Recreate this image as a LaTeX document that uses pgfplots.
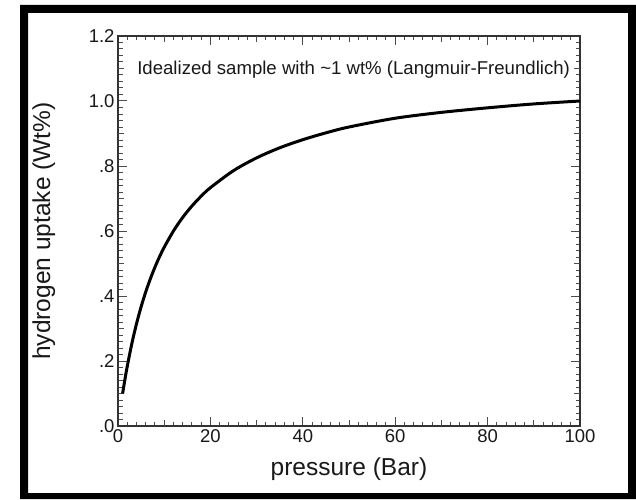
\documentclass[border=0pt]{standalone}
\usepackage{pgfplots}
\pgfplotsset{compat=1.18}
\usepackage{fontspec}
\setmainfont{Liberation Sans}

\begin{document}
\begin{tikzpicture}[x=1pt,y=1pt]
  % page and black frame
  \fill[white] (0,0) rectangle (636,499);
  \fill[black,even odd rule] (20,0) rectangle (636,494) (28,6) rectangle (628,486);
  \begin{axis}[
    at={(118pt,73pt)}, anchor=south west,
    scale only axis, width=462pt, height=390pt,
    xmin=0, xmax=100, ymin=0, ymax=1.2,
    xtick={0,20,40,60,80,100}, xticklabels={0,20,40,60,80,100},
    ytick={0,0.2,0.4,0.6,0.8,1.0,1.2}, yticklabels={.0,.2,.4,.6,.8,1.0,1.2},
    minor x tick num=9, minor y tick num=9,
    extra x ticks={10,30,50,70,90}, extra x tick labels={},
    extra y ticks={0.1,0.3,0.5,0.7,0.9,1.1}, extra y tick labels={},
    extra x tick style={major tick length=6pt},
    extra y tick style={major tick length=6pt},
    major tick length=9pt, minor tick length=4.5pt,
    tick style={line width=1pt, color=black!70},
    axis line style={line width=1.4pt, color=black!80},
    tick align=inside,
    /pgf/number format/assume math mode=true,
    ticklabel style={font=\fontsize{18.5}{20}\selectfont, text=black!90},
    xlabel={pressure (Bar)},
    ylabel={hydrogen uptake (Wt\%)},
    label style={font=\fontsize{24.5}{26}\selectfont, text=black!90},
    xlabel style={at={(axis description cs:0.5,-0.126)}, anchor=base},
    ylabel style={at={(axis description cs:-0.147,0.5)}, anchor=base, rotate=0},
  ]
    \addplot[black, line width=3pt, smooth] coordinates {
      (1,0.1000)(1.5,0.1435)(2,0.1833)(3,0.2538)(4,0.3143)(5,0.3667)
      (6,0.4125)(7,0.4529)(8,0.4889)(9,0.5211)(10,0.5500)(12,0.6000)
      (14,0.6417)(16,0.6769)(18,0.7071)(20,0.7333)(25,0.7857)(30,0.8250)
      (35,0.8560)(40,0.8810)(45,0.9020)(50,0.9200)(60,0.9470)(70,0.9650)
      (80,0.9790)(90,0.9910)(100,1.0000)};
    \node[anchor=base, font=\fontsize{18.6}{21}\selectfont, text=black!90]
      at (axis cs:51.0,1.08) {Idealized sample with \textasciitilde1 wt\% (Langmuir-Freundlich)};
  \end{axis}
\end{tikzpicture}
\end{document}
